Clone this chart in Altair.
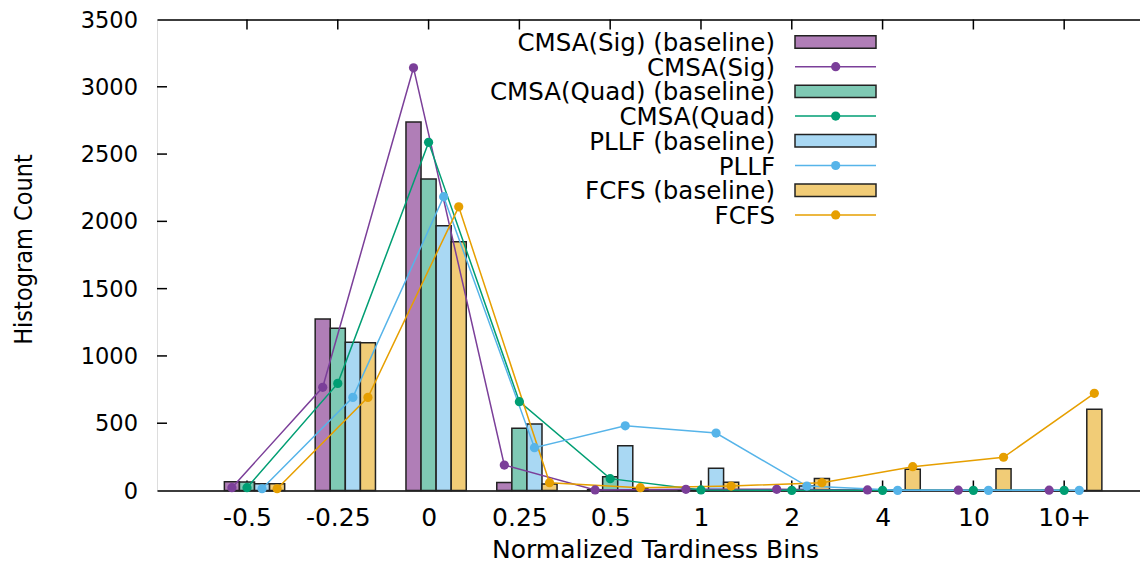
import altair as alt
import pandas as pd

# ---------------- data ----------------
bins = ["-0.5", "-0.25", "0", "0.25", "0.5", "1", "2", "4", "10", "10+"]
series = ["CMSA(Sig)", "CMSA(Quad)", "PLLF", "FCFS"]

sig_base = [65, 1274, 2738, 60, 6, 5, 3, 0, 0, 0]
sig_line = [21, 767, 3141, 189, 4, 9, 9, 4, 2, 2]
quad_base = [63, 1205, 2314, 462, 103, 6, 3, 0, 0, 0]
quad_line = [21, 796, 2587, 660, 88, 4, 1, 1, 1, 1]
pllf_base = [51, 1101, 1967, 494, 333, 165, 33, 3, 0, 0]
pllf_line = [13, 692, 2183, 318, 481, 427, 33, 1, 1, 1]
fcfs_base = [51, 1098, 1849, 48, 16, 61, 90, 157, 162, 603]
fcfs_line = [13, 692, 2108, 58, 21, 33, 58, 177, 247, 722]

y_ticks = [0, 500, 1000, 1500, 2000, 2500, 3000, 3500]
y_title = "Histogram Count"
x_title = "Normalized Tardiness Bins"

# ---------------- styles ----------------
line_colors = ["#7b3f99", "#009e73", "#56b4e9", "#e69f00"]
bar_colors = ["#b07eb7", "#7fc9b4", "#a9d8f3", "#f1cc77"]
FONT = "DejaVu Sans"
W, H = 983, 471
BW = 0.166  # bar width in category units

base_vals = [sig_base, quad_base, pllf_base, fcfs_base]
line_vals = [sig_line, quad_line, pllf_line, fcfs_line]

bar_names = [s + " (baseline)" for s in series]
legend_names = []
legend_colors = []
for k, s in enumerate(series):
    legend_names += [bar_names[k], s]
    legend_colors += [bar_colors[k], line_colors[k]]

color_scale = alt.Scale(domain=legend_names, range=legend_colors)

bar_rows, line_rows = [], []
for k, s in enumerate(series):
    off = (k - 1) * BW
    for i, b in enumerate(bins):
        bar_rows.append(dict(series=bar_names[k], order=k, bin=b, value=base_vals[k][i],
                             x1=i + off - BW / 2, x2=i + off + BW / 2))
        line_rows.append(dict(series=s, order=k, bin=b, value=line_vals[k][i], xc=i + off))
bars_df = pd.DataFrame(bar_rows)
lines_df = pd.DataFrame(line_rows)

xscale = alt.Scale(domain=[-0.991, 9.835], nice=False, zero=False)
yscale = alt.Scale(domain=[0, 3500], nice=False, zero=True)

label_expr = "[" + ",".join("'%s'" % b for b in bins) + "][datum.value]"

bars = alt.Chart(bars_df).mark_rect(stroke="#222222", strokeWidth=1.5).encode(
    x=alt.X("x1:Q", scale=xscale, axis=None),
    x2="x2:Q",
    y=alt.Y("value:Q", scale=yscale, axis=None),
    y2=alt.datum(0),
    fill=alt.Fill("series:N", scale=color_scale, legend=None),
)

lines = alt.Chart(lines_df).mark_line(strokeWidth=1.5).encode(
    x=alt.X("xc:Q", scale=xscale, axis=None),
    y=alt.Y("value:Q", scale=yscale, axis=None),
    color=alt.Color("series:N", scale=color_scale, legend=None),
    order="order:Q",
)

points = alt.Chart(lines_df).mark_point(filled=True, size=85, opacity=1).encode(
    x=alt.X("xc:Q", scale=xscale, axis=None),
    y=alt.Y("value:Q", scale=yscale, axis=None),
    color=alt.Color("series:N", scale=color_scale, legend=None),
)

# inward ticks (gnuplot style), axes and top border
xt_df = pd.DataFrame({"pos": list(range(len(bins)))})
yt_df = pd.DataFrame({"val": y_ticks})

bottom_ticks = alt.Chart(xt_df).mark_rule(color="black", strokeWidth=1.5).encode(
    x=alt.X("pos:Q", scale=xscale,
            axis=alt.Axis(orient="bottom", values=list(range(len(bins))), labelExpr=label_expr,
                          ticks=False, tickSize=0, grid=False, labelPadding=15,
                          labelFontSize=25, labelFont=FONT, labelColor="black",
                          labelBaseline="top",
                          domainColor="black", domainWidth=1.5,
                          title=x_title, titleFont=FONT, titleFontSize=25,
                          titleFontWeight="normal", titleColor="black",
                          titleX=498, titleY=67, titleBaseline="alphabetic", titleAlign="center")),
    y=alt.value(H), y2=alt.value(H - 10))
top_ticks = alt.Chart(xt_df).mark_rule(color="black", strokeWidth=1.5).encode(
    x=alt.X("pos:Q", scale=xscale,
            axis=alt.Axis(orient="top", labels=False, ticks=False, tickSize=0, grid=False,
                          domainColor="black", domainWidth=1.5, title=None)),
    y=alt.value(0), y2=alt.value(10))
left_ticks = alt.Chart(yt_df).transform_filter(
    "datum.val > 0 && datum.val < 3500").mark_rule(color="black", strokeWidth=1.5).encode(
    y=alt.Y("val:Q", scale=yscale,
            axis=alt.Axis(orient="left", labels=False, ticks=False, tickSize=0, grid=False,
                          domainColor="black", domainWidth=1.5, title=None)),
    x=alt.value(0), x2=alt.value(10))

# y tick labels and title as text marks
left_labels = alt.Chart(yt_df).mark_text(align="right", baseline="middle", font=FONT,
                                         fontSize=22.5, color="black", dy=1).encode(
    y=alt.Y("val:Q", scale=yscale, axis=None), x=alt.value(-19), text=alt.Text("val:Q", format="d"))
ytitle = alt.Chart(pd.DataFrame({"t": [y_title]})).mark_text(
    align="center", baseline="alphabetic", angle=270, font="DejaVu Sans Condensed",
    fontSize=25, color="black").encode(
    x=alt.value(-125), y=alt.value(230), text="t:N")

# ---------------- legend (text on the left, key on the right) ----------------
leg_df = pd.DataFrame({"series": legend_names, "row": list(range(len(legend_names))),
                       "kind": ["bar", "line"] * len(series)})
leg_base = alt.Chart(leg_df).transform_calculate(
    ly="22.5 + 24.7 * datum.row", ly1="22.5 + 24.7 * datum.row - 6.2",
    ly2="22.5 + 24.7 * datum.row + 6.2")

leg_text = leg_base.mark_text(align="right", baseline="middle", font=FONT, fontSize=24.5,
                              color="black", dy=2).encode(
    x=alt.value(618), y=alt.Y("ly:Q", scale=None, axis=None), text="series:N")
leg_rect = leg_base.transform_filter("datum.kind == 'bar'").mark_rect(
    stroke="#222222", strokeWidth=1.5).encode(
    x=alt.value(638), x2=alt.value(719),
    y=alt.Y("ly1:Q", scale=None, axis=None), y2="ly2:Q",
    fill=alt.Fill("series:N", scale=color_scale, legend=None))
leg_line = leg_base.transform_filter("datum.kind == 'line'").mark_rule(strokeWidth=1.5).encode(
    x=alt.value(638), x2=alt.value(719),
    y=alt.Y("ly:Q", scale=None, axis=None),
    color=alt.Color("series:N", scale=color_scale, legend=None))
leg_pt = leg_base.transform_filter("datum.kind == 'line'").mark_point(
    filled=True, size=85, opacity=1).encode(
    x=alt.value(678.7),
    y=alt.Y("ly:Q", scale=None, axis=None),
    color=alt.Color("series:N", scale=color_scale, legend=None))

chart = alt.layer(
    left_ticks, bottom_ticks, top_ticks, bars, lines, points,
    left_labels, ytitle,
    leg_text, leg_rect, leg_line, leg_pt,
).properties(
    width=W, height=H,
    autosize=alt.AutoSizeParams(type="none"),
    padding={"left": 149, "top": 11.5, "right": 0, "bottom": 74.5},
).configure_view(stroke=None).configure(background="white")

chart.save("out.html", embed_options={"renderer": "svg", "actions": False})
